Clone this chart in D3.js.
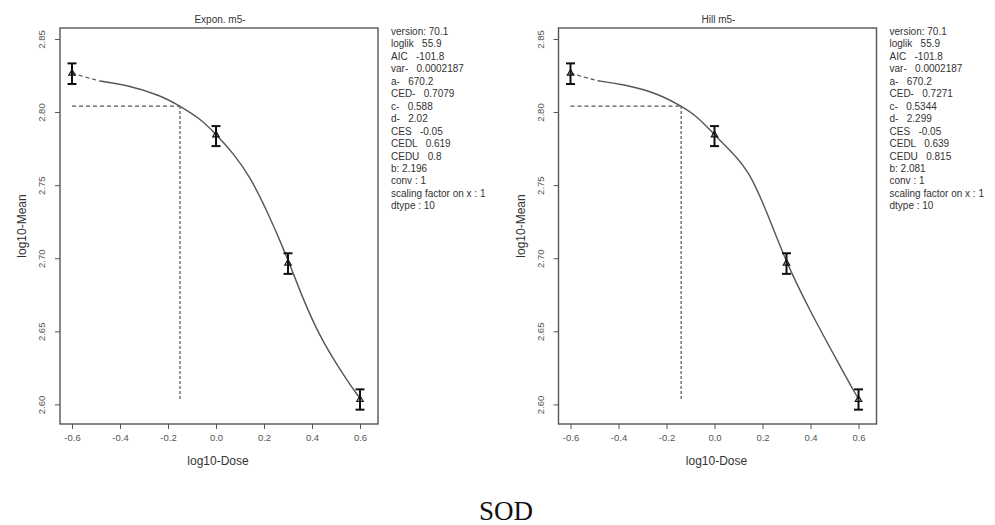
<!DOCTYPE html>
<html>
<head>
<meta charset="utf-8">
<script src="https://cdn.jsdelivr.net/npm/d3@7"></script>
<style>
  body { margin: 0; background: #fff; }
  svg { display: block; font-family: "Liberation Sans", Arial, sans-serif; }
</style>
</head>
<body>
<div id="chart"></div>
<script>
// observed data (log10 dose, log10 mean, CI bounds) - control dose sits at -0.6
const doses = [-0.6, 0, 0.3, 0.6];
const means = [2.8265, 2.7843, 2.6966, 2.6034];
const lower = [2.8192, 2.7767, 2.6893, 2.5964];
const upper = [2.8333, 2.7904, 2.7034, 2.6103];

const xTicks = [-0.6, -0.4, -0.2, 0.0, 0.2, 0.4, 0.6];
const yTicks = [2.60, 2.65, 2.70, 2.75, 2.80, 2.85];

// fitted curves
const exponCurveX = [-0.483, -0.372, -0.233, -0.15, -0.067, 0.003, 0.072, 0.142, 0.211, 0.2875, 0.364, 0.433, 0.517, 0.593, 0.603];
const exponCurveY = [2.8212, 2.8185, 2.8116, 2.8041, 2.7957, 2.7843, 2.7718, 2.7557, 2.7330, 2.7044, 2.6714, 2.6463, 2.6235, 2.6053, 2.6042];

const hillCurveX = [-0.487, -0.376, -0.237, -0.139, -0.070, 0.0, 0.078, 0.147, 0.217, 0.301, 0.398, 0.509, 0.593, 0.603];
const hillCurveY = [2.8214, 2.8189, 2.8128, 2.8041, 2.7968, 2.7843, 2.7718, 2.7585, 2.7322, 2.6962, 2.6640, 2.6304, 2.6053, 2.6035];

// CED marks
const exponCED = -0.150;
const hillCED = -0.139;
const cesLevel = 2.8041;
const cedBottom = 2.603;

const exponParams = ["version: 70.1", "loglik   55.9", "AIC   -101.8", "var-   0.0002187", "a-   670.2",
    "CED-   0.7079", "c-   0.588", "d-   2.02", "CES   -0.05", "CEDL   0.619", "CEDU   0.8",
    "b: 2.196", "conv : 1", "scaling factor on x : 1", "dtype : 10"];
const hillParams = ["version: 70.1", "loglik   55.9", "AIC   -101.8", "var-   0.0002187", "a-   670.2",
    "CED-   0.7271", "c-   0.5344", "d-   2.299", "CES   -0.05", "CEDL   0.639", "CEDU   0.815",
    "b: 2.081", "conv : 1", "scaling factor on x : 1", "dtype : 10"];

const width = 995, height = 525;

const svg = d3.select("#chart").append("svg")
    .attr("width", width)
    .attr("height", height);

// plot box (left panel coords)
const box = {left: 60, right: 378, top: 28, bottom: 424};

const x = d3.scaleLinear().domain([-0.65, 0.675]).range([box.left, box.right]);
const y = d3.scaleLinear().domain([2.5866, 2.8575]).range([box.bottom, box.top]);

function drawPanel(offset, title, curveX, curveY, ced, params) {
    let g = svg.append("g").attr("transform", `translate(${offset},0)`);

    // title
    g.append("text")
        .attr("x", 220).attr("y", 23)
        .attr("text-anchor", "middle")
        .attr("font-size", 10)
        .attr("fill", "#333")
        .text(title);

    // frame
    g.append("rect")
        .attr("x", box.left).attr("y", box.top)
        .attr("width", box.right - box.left)
        .attr("height", box.bottom - box.top)
        .attr("fill", "none")
        .attr("stroke", "#555")
        .attr("stroke-width", 1.4);

    // x axis
    let xAxis = g.append("g")
        .attr("transform", `translate(0,${box.bottom})`)
        .call(d3.axisBottom(x).tickValues(xTicks).tickSize(5).tickPadding(5));
    xAxis.select(".domain").remove();
    xAxis.selectAll("line").attr("stroke", "#555");
    xAxis.selectAll("text")
        .attr("font-size", 9.5)
        .attr("fill", "#555")
        .attr("font-family", "Liberation Sans, Arial, sans-serif")
        .text(d => d3.format(".1f")(d).replace("−", "-"));

    // y axis
    let yAxis = g.append("g")
        .attr("transform", `translate(${box.left},0)`)
        .call(d3.axisLeft(y).tickValues(yTicks).tickFormat(d3.format(".2f")).tickSize(5));
    yAxis.select(".domain").remove();
    yAxis.selectAll("line").attr("stroke", "#555");
    yAxis.selectAll("text")
        .attr("font-size", 9.5)
        .attr("fill", "#555")
        .attr("font-family", "Liberation Sans, Arial, sans-serif")
        .attr("text-anchor", "middle")
        .attr("x", null).attr("dy", null)
        .attr("transform", "translate(-15,0) rotate(-90)");

    // axis titles
    g.append("text")
        .attr("x", 218).attr("y", 465)
        .attr("text-anchor", "middle")
        .attr("font-size", 12)
        .attr("fill", "#333")
        .text("log10-Dose");

    g.append("text")
        .attr("transform", `translate(26,226) rotate(-90)`)
        .attr("text-anchor", "middle")
        .attr("font-size", 12)
        .attr("fill", "#333")
        .text("log10-Mean");

    // CED guide lines
    g.append("line")
        .attr("x1", x(doses[0])).attr("x2", x(ced))
        .attr("y1", y(cesLevel)).attr("y2", y(cesLevel))
        .attr("stroke", "#555").attr("stroke-width", 1.2)
        .attr("stroke-dasharray", "4,3");
    g.append("line")
        .attr("x1", x(ced)).attr("x2", x(ced))
        .attr("y1", y(cesLevel)).attr("y2", y(cedBottom))
        .attr("stroke", "#555").attr("stroke-width", 1.2)
        .attr("stroke-dasharray", "3,2");

    // dashed link from control to curve
    g.append("line")
        .attr("x1", x(doses[0])).attr("y1", y(means[0]))
        .attr("x2", x(curveX[0])).attr("y2", y(curveY[0]))
        .attr("stroke", "#555").attr("stroke-width", 1.2)
        .attr("stroke-dasharray", "4,3");

    // fitted curve
    let pts = curveX.map((d, i) => [d, curveY[i]]);
    g.append("path")
        .datum(pts)
        .attr("fill", "none")
        .attr("stroke", "#555")
        .attr("stroke-width", 1.4)
        .attr("d", d3.line().x(d => x(d[0])).y(d => y(d[1])).curve(d3.curveBasis));

    // error bars
    let bars = g.selectAll(".ebar")
        .data(doses.map((d, i) => ({dose: d, mean: means[i], lo: lower[i], hi: upper[i]})))
        .enter().append("g")
        .attr("class", "ebar");
    bars.append("line")
        .attr("x1", d => x(d.dose)).attr("x2", d => x(d.dose))
        .attr("y1", d => y(d.lo)).attr("y2", d => y(d.hi))
        .attr("stroke", "#111").attr("stroke-width", 2);
    bars.append("line")
        .attr("x1", d => x(d.dose) - 4.5).attr("x2", d => x(d.dose) + 4.5)
        .attr("y1", d => y(d.hi)).attr("y2", d => y(d.hi))
        .attr("stroke", "#111").attr("stroke-width", 2);
    bars.append("line")
        .attr("x1", d => x(d.dose) - 4.5).attr("x2", d => x(d.dose) + 4.5)
        .attr("y1", d => y(d.lo)).attr("y2", d => y(d.lo))
        .attr("stroke", "#111").attr("stroke-width", 2);
    bars.append("path")
        .attr("transform", d => `translate(${x(d.dose)},${y(d.mean)})`)
        .attr("d", d3.symbol().type(d3.symbolTriangle).size(18))
        .attr("fill", "none")
        .attr("stroke", "#111")
        .attr("stroke-width", 1.2);

    // parameter listing
    g.append("g")
        .selectAll("text")
        .data(params)
        .enter().append("text")
        .attr("x", 391)
        .attr("y", (d, i) => 35 + i * 12.45)
        .attr("font-size", 10)
        .attr("fill", "#333")
        .style("white-space", "pre")
        .text(d => d);
}

drawPanel(0, "Expon. m5-", exponCurveX, exponCurveY, exponCED, exponParams);
drawPanel(498.5, "Hill m5-", hillCurveX, hillCurveY, hillCED, hillParams);

// caption
svg.append("text")
    .attr("x", 506).attr("y", 520)
    .attr("text-anchor", "middle")
    .attr("font-family", "Liberation Serif, 'Times New Roman', serif")
    .attr("font-size", 27)
    .attr("fill", "#111")
    .text("SOD");
</script>
</body>
</html>
